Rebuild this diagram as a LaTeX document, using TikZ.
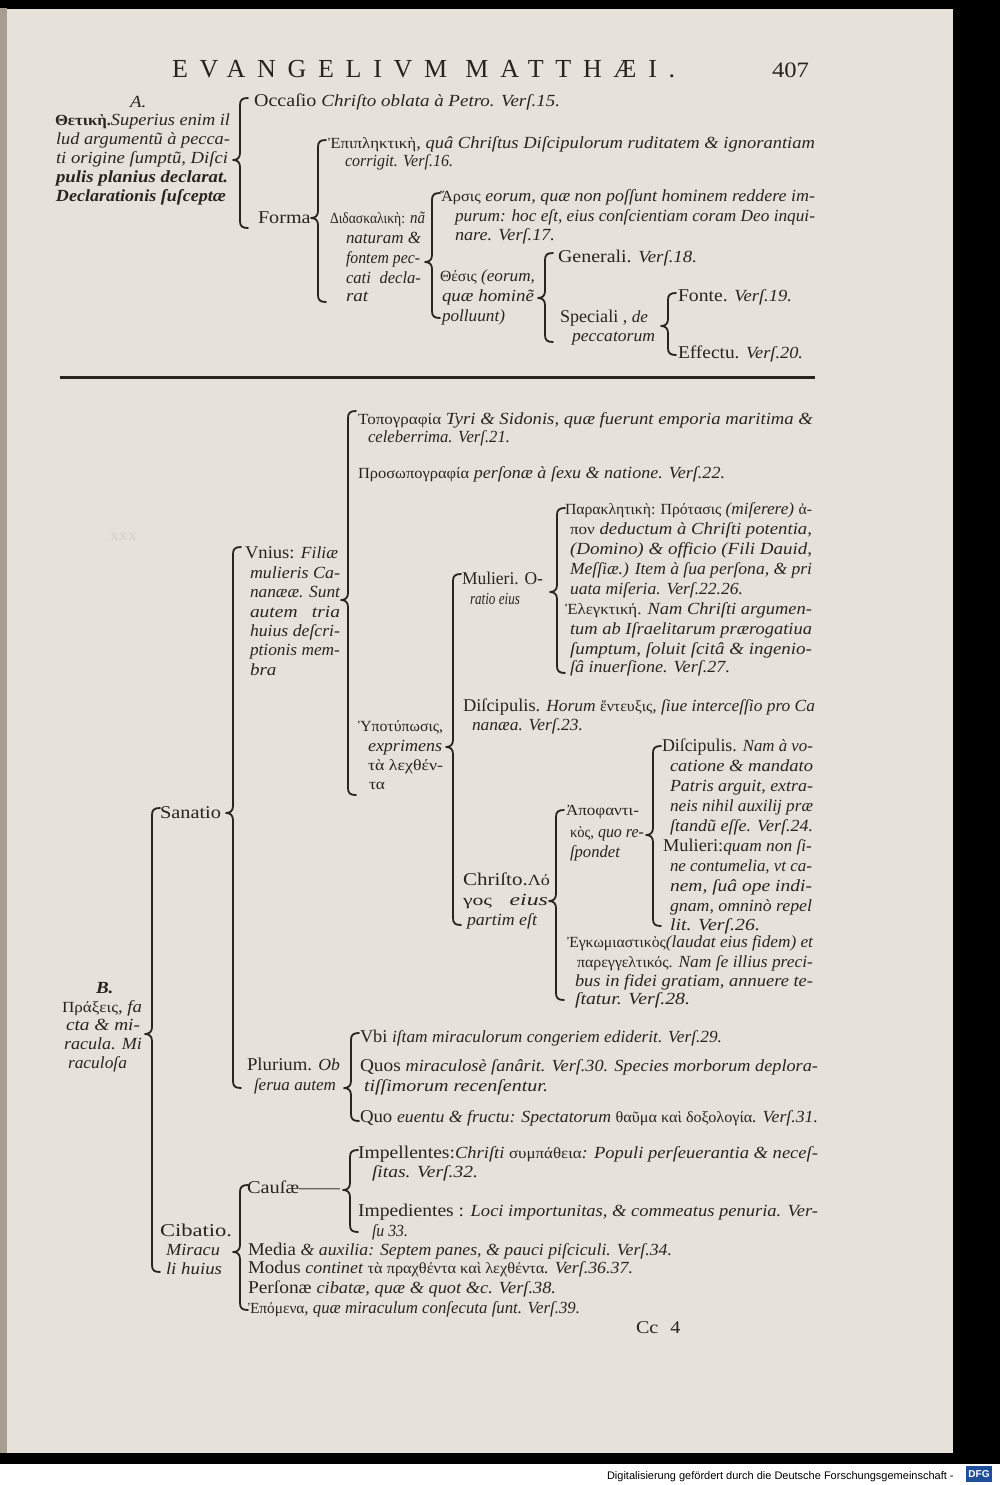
\documentclass[tikz,border=0pt]{standalone}
\usepackage{fontspec}
\usepackage{graphicx}
\setmainfont{Liberation Serif}[FakeStretch=1.12]
\newfontfamily\sansf{Liberation Sans}
\newfontfamily\hdrf[LetterSpace=45]{Liberation Serif}
\definecolor{page}{HTML}{E7E2D9}
\definecolor{edge}{HTML}{A89E90}
\definecolor{ink}{HTML}{2A2420}
\definecolor{dfgblue}{HTML}{1F4E9A}
\tikzset{
 every node/.style={inner sep=0pt, outer sep=0pt, anchor=base west, text=ink},
 it/.style={font=\fontsize{17}{19}\selectfont\itshape},
 rm/.style={font=\fontsize{18}{20}\selectfont},
 gkn/.style={font=\fontsize{15.5}{17}\selectfont},
 brace/.style={draw=ink, line width=1.8pt, line cap=round, line join=round},
}
\newcommand\gk[1]{{\upshape\fontsize{15.5}{17}\selectfont #1}}
\newcommand\ii[1]{{\itshape\fontsize{17}{19}\selectfont #1}}
\newlength\fitlen
\newcommand\fitw[2]{\settowidth{\fitlen}{#2}\pgfmathsetmacro\fitr{(#1)/\fitlen}\scalebox{\fitr}[1]{#2}}
% style, name, x, baseline y, right edge x, text
\newcommand\Ln[6]{\node[#1] (#2) at (#3,#4) {\fitw{#5-#3}{#6}};}
% name, x, top, nib, bottom
\newcommand\brc[5]{%
 \coordinate (#1t) at (#2,#3);
 \coordinate (#1m) at (#2-7,#4);
 \coordinate (#1b) at (#2,#5);
 \draw[brace] (#2+8,#3) .. controls (#2+2,#3) and (#2,#3+2) .. (#2,#3+7)
   -- (#2,#4-7) .. controls (#2,#4-2) and (#2-3,#4) .. (#1m)
   .. controls (#2-3,#4) and (#2,#4+2) .. (#2,#4+7)
   -- (#2,#5-7) .. controls (#2,#5-2) and (#2+2,#5) .. (#2+8,#5);
}
\begin{document}
\begin{tikzpicture}[x=1pt,y=-1pt]
\useasboundingbox (0,0) rectangle (1000,1485);
% page and scan surroundings
\fill[black] (0,0) rectangle (1000,1464);
\fill[white] (0,1464) rectangle (1000,1485);
\fill[page] (7,9) rectangle (953,1453);
\fill[edge] (0,8) rectangle (7,1453);
% header
\node[font=\hdrf\fontsize{26}{28}\selectfont] (hdr) at (172,78) {EVANGELIVM MATTHÆI.};
\node[font=\fontsize{22}{24}\selectfont] (pgno) at (772,78) {407};
% ===== Part A =====
\node[it] (a0) at (130,108) {A.};
\Ln{it}{a1}{55}{125}{230}{\gk{\bfseries Θετικὴ.}Superius enim il}
\Ln{it}{a2}{56}{144}{230}{lud argumentũ à pecca-}
\Ln{it}{a3}{56}{163}{228}{ti origine ſumptũ, Diſci}
\Ln{it}{a4}{56}{182}{228}{\bfseries pulis planius declarat.}
\Ln{it}{a5}{56}{201}{226}{\bfseries Declarationis ſuſceptæ}
\brc{A1}{240}{98}{160}{228}
\Ln{rm}{occ}{254}{107}{560}{Occaſio \ii{Chriſto oblata à Petro. Verſ.15.}}
\node[rm] (forma) at (258,223) {Forma};
\brc{A2}{318}{140}{218}{302}
\Ln{it}{ep1}{328}{148}{815}{\gk{Ἐπιπληκτικὴ}, quâ Chriſtus Diſcipulorum ruditatem \& ignorantiam}
\Ln{it}{ep2}{345}{166}{453}{corrigit. Verſ.16.}
\Ln{it}{di1}{330}{223}{425}{\gk{Διδασκαλικὴ:} nã}
\Ln{it}{di2}{346}{243}{421}{naturam \&}
\Ln{it}{di3}{346}{263}{420}{fontem pec-}
\Ln{it}{di4}{346}{283}{421}{cati\hspace{10pt}decla-}
\node[it] (di5) at (346,301) {rat};
\brc{A3}{432}{193}{262}{318}
\Ln{it}{ar1}{440}{201}{815}{\gk{Ἄρσις} eorum, quæ non poſſunt hominem reddere im-}
\Ln{it}{ar2}{455}{221}{815}{purum: hoc eſt, eius conſcientiam coram Deo inqui-}
\Ln{it}{ar3}{455}{240}{555}{nare. Verſ.17.}
\Ln{it}{th1}{440}{281}{535}{\gk{Θέσις} (eorum,}
\Ln{it}{th2}{442}{301}{534}{quæ hominẽ}
\Ln{it}{th3}{442}{321}{505}{polluunt)}
\brc{A4}{545}{253}{298}{342}
\Ln{rm}{gen}{558}{262}{697}{Generali. \ii{Verſ.18.}}
\Ln{rm}{sp1}{560}{322}{648}{Speciali , \ii{de}}
\Ln{it}{sp2}{572}{341}{655}{peccatorum}
\brc{A5}{668}{293}{326}{355}
\Ln{rm}{fon}{678}{301}{792}{Fonte. \ii{Verſ.19.}}
\Ln{rm}{eff}{678}{358}{803}{Effectu. \ii{Verſ.20.}}
% rule
\coordinate (ruleL) at (60,377);
\coordinate (ruleR) at (815,377);
\draw[ink, line width=3pt] (ruleL) -- (ruleR);
% ===== Part B =====
\node[font=\fontsize{11}{12}\selectfont, text=ink!22] (ghost) at (110,540) {XXX};
\brc{V}{348}{411}{600}{795}
\Ln{it}{to1}{358}{424}{813}{\gk{Τοπογραφία} Tyri \& Sidonis, quæ fuerunt emporia maritima \&}
\Ln{it}{to2}{368}{442}{510}{celeberrima. Verſ.21.}
\Ln{it}{pr1}{358}{478}{725}{\gk{Προσωπογραφία} perſonæ à ſexu \& natione. Verſ.22.}
\brc{M}{557}{508}{592}{673}
\Ln{it}{pa1}{565}{514}{812}{\gk{Παρακλητικὴ: Πρότασις} (miſerere) \gk{ἀ-}}
\Ln{it}{pa2}{570}{534}{812}{\gk{πον} deductum à Chriſti potentia,}
\Ln{it}{pa3}{570}{554}{812}{(Domino) \& officio (Fili Dauid,}
\Ln{it}{pa4}{570}{574}{812}{Meſſiæ.) Item à ſua perſona, \& pri}
\Ln{it}{pa5}{570}{594}{743}{uata miſeria. Verſ.22.26.}
\Ln{it}{el1}{565}{614}{812}{\gk{Ἐλεγκτική.} Nam Chriſti argumen-}
\Ln{it}{el2}{570}{634}{812}{tum ab Iſraelitarum prærogatiua}
\Ln{it}{el3}{570}{654}{812}{ſumptum, ſoluit ſcitâ \& ingenio-}
\Ln{it}{el4}{570}{672}{730}{ſâ inuerſione. Verſ.27.}
\brc{S}{233}{547}{813}{1088}
\Ln{rm}{vn1}{245}{558}{338}{Vnius: \ii{Filiæ}}
\Ln{it}{vn2}{250}{578}{340}{mulieris Ca-}
\Ln{it}{vn3}{250}{597}{340}{nanææ. Sunt}
\Ln{it}{vn4}{250}{617}{340}{autem\hspace{14pt}tria}
\Ln{it}{vn5}{250}{636}{340}{huius deſcri-}
\Ln{it}{vn6}{250}{655}{340}{ptionis mem-}
\node[it] (vn7) at (250,675) {bra};
\brc{Y}{453}{574}{747}{925}
\Ln{rm}{mu1}{462}{584}{543}{Mulieri. O-}
\Ln{it}{mu2}{470}{604}{520}{ratio eius}
\Ln{rm}{ds1}{463}{711}{815}{Diſcipulis. \ii{Horum \gk{ἔντευξις}, ſiue interceſſio pro Ca}}
\Ln{it}{ds2}{472}{730}{583}{nanæa. Verſ.23.}
\Ln{gkn}{hy1}{358}{731}{443}{Ὑποτύπωσις,}
\Ln{it}{hy2}{368}{751}{442}{exprimens}
\Ln{gkn}{hy3}{368}{770}{443}{τὰ λεχθέν-}
\node[gkn] (hy4) at (369,789) {τα};
\brc{P}{653}{746}{835}{926}
\Ln{gkn}{ap1}{566}{815}{639}{Ἀποφαντι-}
\Ln{it}{ap2}{570}{837}{644}{\gk{κὸς,} quo re-}
\Ln{it}{ap3}{570}{857}{620}{ſpondet}
\Ln{rm}{dd1}{662}{751}{813}{Diſcipulis. \ii{Nam à vo-}}
\Ln{it}{dd2}{670}{771}{813}{catione \& mandato}
\Ln{it}{dd3}{670}{791}{813}{Patris arguit, extra-}
\Ln{it}{dd4}{670}{811}{813}{neis nihil auxilij præ}
\Ln{it}{dd5}{670}{831}{813}{ſtandũ eſſe. Verſ.24.}
\Ln{rm}{ml1}{663}{851}{812}{Mulieri:\ii{quam non ſi-}}
\Ln{it}{ml2}{670}{871}{812}{ne contumelia, vt ca-}
\Ln{it}{ml3}{670}{891}{812}{nem, ſuâ ope indi-}
\Ln{it}{ml4}{670}{911}{812}{gnam, omninò repel}
\Ln{it}{ml5}{670}{930}{760}{lit. Verſ.26.}
\brc{Ch}{556}{810}{901}{1000}
\Ln{rm}{cr1}{463}{885}{550}{Chriſto.\gk{Λό}}
\Ln{it}{cr2}{463}{905}{548}{\gk{γος}\hspace{14pt}eius}
\Ln{it}{cr3}{467}{925}{537}{partim eſt}
\Ln{it}{eg1}{567}{947}{813}{\gk{Ἐγκωμιαστικὸς}(laudat eius fidem) et}
\Ln{it}{eg2}{577}{967}{813}{\gk{παρεγγελτικός.} Nam ſe illius preci-}
\Ln{it}{eg3}{575}{986}{813}{bus in fidei gratiam, annuere te-}
\Ln{it}{eg4}{575}{1004}{690}{ſtatur. Verſ.28.}
\Ln{rm}{san}{160}{818}{221}{Sanatio}
\brc{B}{152}{808}{1034}{1272}
\node[it] (b0) at (96,993) {\bfseries B.};
\Ln{it}{b1}{62}{1012}{142}{\gk{Πράξεις}, fa}
\Ln{it}{b2}{66}{1030}{140}{cta \& mi-}
\Ln{it}{b3}{64}{1049}{142}{racula. Mi}
\Ln{it}{b4}{68}{1068}{127}{raculoſa}
\Ln{rm}{pl1}{247}{1070}{340}{Plurium. \ii{Ob}}
\Ln{it}{pl2}{254}{1090}{336}{ſerua autem}
\brc{Pl}{351}{1033}{1088}{1121}
\Ln{rm}{vb}{360}{1042}{722}{Vbi \ii{iſtam miraculorum congeriem ediderit. Verſ.29.}}
\Ln{rm}{qu1}{360}{1071}{818}{Quos \ii{miraculosè ſanârit. Verſ.30. Species morborum deplora-}}
\Ln{it}{qu2}{364}{1091}{548}{tiſſimorum recenſentur.}
\Ln{rm}{qe}{360}{1122}{818}{Quo \ii{euentu \& fructu: Spectatorum \gk{θαῦμα καὶ δοξολογία}. Verſ.31.}}
\brc{C}{240}{1185}{1252}{1310}
\Ln{rm}{ci1}{160}{1236}{232}{Cibatio.}
\Ln{it}{ci2}{166}{1255}{220}{Miracu}
\Ln{it}{ci3}{166}{1274}{222}{li huius}
\Ln{rm}{ca}{247}{1193}{340}{Cauſæ——}
\brc{Ca}{350}{1150}{1190}{1232}
\Ln{rm}{im1}{358}{1158}{818}{Impellentes:\ii{Chriſti \gk{συμπάθεια}: Populi perſeuerantia \& neceſ-}}
\Ln{it}{im2}{372}{1177}{478}{ſitas. Verſ.32.}
\Ln{rm}{id1}{358}{1216}{818}{Impedientes : \ii{Loci importunitas, \& commeatus penuria. Ver-}}
\Ln{it}{id2}{372}{1236}{408}{ſu 33.}
\Ln{rm}{me}{248}{1255}{672}{Media \ii{\& auxilia: Septem panes, \& pauci piſciculi. Verſ.34.}}
\Ln{rm}{mo}{248}{1273}{633}{Modus \ii{continet \gk{τὰ πραχθέντα καὶ λεχθέντα}. Verſ.36.37.}}
\Ln{rm}{pe}{248}{1293}{556}{Perſonæ \ii{cibatæ, quæ \& quot \&c. Verſ.38.}}
\Ln{it}{ep}{248}{1313}{580}{\gk{Ἐπόμενα}, quæ miraculum conſecuta ſunt. Verſ.39.}
\node[rm] (cc) at (636,1333) {Cc\hspace{12pt}4};
% footer
\node[font=\sansf\fontsize{11}{12}\selectfont, text=black] (foot) at (607,1479) {Digitalisierung gefördert durch die Deutsche Forschungsgemeinschaft -};
\node[fill=dfgblue, text=white, font=\sansf\bfseries\fontsize{10}{11}\selectfont, minimum width=26pt, minimum height=16pt, inner sep=0pt, anchor=center] (dfg) at (979,1474) {DFG};
\end{tikzpicture}
\end{document}
